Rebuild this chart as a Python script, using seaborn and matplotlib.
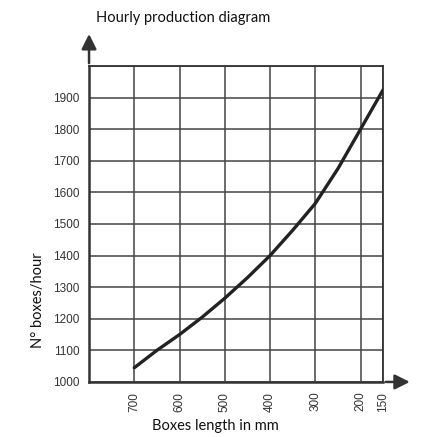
import numpy as np
import pandas as pd
import matplotlib
matplotlib.use("Agg")
import matplotlib.pyplot as plt
import seaborn as sns

# values
box_length = [700, 650, 600, 550, 500, 450, 400, 350, 300, 250, 200, 150]
boxes_hour = [1045, 1100, 1150, 1205, 1265, 1330, 1400, 1480, 1565, 1675, 1800, 1925]
x_ticks = [700, 600, 500, 400, 300, 200, 150]
y_ticks = [1000, 1100, 1200, 1300, 1400, 1500, 1600, 1700, 1800, 1900]

df = pd.DataFrame({"length": box_length, "boxes": boxes_hour})

sns.set_style("white")
plt.rcParams['font.family'] = ['Liberation Sans', 'DejaVu Sans']

fig = plt.figure(figsize=(4.22, 4.37), dpi=100)
ax = fig.add_axes([0.211, 0.126, 0.697, 0.723])

# grid
for v in x_ticks:
    ax.axvline(v, color="#444444", linewidth=1.1, zorder=1)
for v in range(1000, 2001, 100):
    ax.axhline(v, color="#444444", linewidth=1.1, zorder=1)

sns.lineplot(data=df, x="length", y="boxes", ax=ax, color="#222222", linewidth=2.4, zorder=3)

ax.set_xlim(800, 150)
ax.set_ylim(1000, 2000)
ax.set_xticks(x_ticks)
ax.set_yticks(y_ticks)
ax.set_xticklabels([str(v) for v in x_ticks], rotation=90, fontsize=8.5, color="#333333")
ax.set_yticklabels([str(v) for v in y_ticks], fontsize=8.5, color="#333333")
ax.tick_params(axis="y", length=0, pad=7)
ax.tick_params(axis="x", length=0, pad=7)
ax.set_xlabel("")
ax.set_ylabel("")

for side in ["top", "right"]:
    ax.spines[side].set_color("#333333")
    ax.spines[side].set_linewidth(1.3)
for side in ["left", "bottom"]:
    ax.spines[side].set_color("#333333")
    ax.spines[side].set_linewidth(1.8)

# axis arrows
ax.annotate("", xy=(0, 1.11), xytext=(0, 1.0), xycoords="axes fraction",
            arrowprops=dict(arrowstyle="-|>,head_length=0.9,head_width=0.45",
                            color="#333333", lw=1.8), annotation_clip=False)
ax.annotate("", xy=(1.1, 0), xytext=(1.0, 0), xycoords="axes fraction",
            arrowprops=dict(arrowstyle="-|>,head_length=0.9,head_width=0.45",
                            color="#333333", lw=1.8), annotation_clip=False)

fig.text(183 / 422, 1 - 18 / 437, "Hourly production diagram", family=["Lato", "DejaVu Sans"],
         fontsize=10.5, ha="center", va="center", color="#111111")
fig.text(38 / 422, 1 - 300 / 437, "N° boxes/hour", family=["Lato", "DejaVu Sans"],
         fontsize=10.5, ha="center", va="center", rotation=90, color="#111111")
fig.text(215 / 422, 1 - 426 / 437, "Boxes length in mm", family=["Lato", "DejaVu Sans"],
         fontsize=10.5, ha="center", va="center", color="#111111")

fig.savefig("out.png", dpi=100)
